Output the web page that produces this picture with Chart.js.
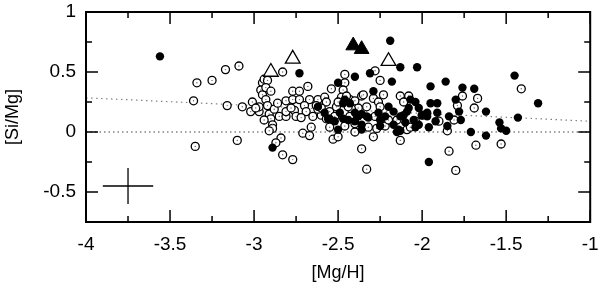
<!DOCTYPE html>
<html><head><meta charset="utf-8">
<script src="https://cdn.jsdelivr.net/npm/chart.js@4/dist/chart.umd.min.js"></script>
<style>html,body{margin:0;padding:0;background:#fff;}#wrap{width:600px;height:286px;}</style>
</head><body><div id="wrap"><canvas id="c" width="600" height="286"></canvas></div>
<script>
const xTicks = [-4,-3.5,-3,-2.5,-2,-1.5,-1];
const xMinor = [-3.75,-3.25,-2.75,-2.25,-1.75,-1.25];
const yTicks = [-0.5,0,0.5,1];
const yMinor = [-0.25,0.25,0.75];

const openX = [-3.34,-3.36,-3.35,-3.25,-3.17,-3.09,-3.16,-3.07,-3.10,-3.01,-3.02,-2.97,-2.97,-2.95,-2.96,-2.94,-2.92,-2.95,-2.93,-2.92,-2.91,-2.90,-2.89,-2.89,-2.84,-2.88,-2.85,-2.83,-2.81,-2.81,-2.77,-2.73,-2.68,-2.77,-2.73,-2.67,-2.62,-2.58,-2.63,-2.70,-2.76,-2.81,-2.75,-2.69,-2.65,-2.60,-2.57,-2.71,-2.66,-2.67,-2.53,-2.50,-2.54,-2.46,-2.46,-2.47,-2.55,-2.40,-2.36,-2.33,-2.36,-2.28,-2.25,-2.23,-2.29,-2.13,-2.32,-2.83,-2.77,-2.87,-2.43,-2.35,-2.29,-2.26,-2.38,-2.33,-2.25,-2.42,-2.13,-2.08,-2.11,-2.15,-2.22,-2.27,-2.09,-2.04,-2.00,-2.43,-2.28,-2.20,-2.07,-1.76,-1.67,-1.69,-1.79,-1.81,-1.90,-1.85,-1.68,-1.84,-1.80,-1.53,-1.41,-2.99,-2.94,-2.86,-2.55,-2.51,-2.48,-2.44,-2.40,-2.52,-2.93,-2.62,-2.45,-2.50,-2.57,-2.40,-2.46,-2.72,-2.78,-2.90,-2.91,-2.60];
const openY = [0.41,0.26,-0.12,0.43,0.52,0.55,0.22,0.21,-0.07,0.25,0.17,0.17,0.21,0.41,0.35,0.44,0.43,0.31,0.27,0.22,0.15,0.11,0.06,0.03,-0.05,0.19,0.13,0.50,0.13,0.26,0.34,0.34,0.38,0.27,0.27,0.27,0.27,0.29,0.22,0.22,0.18,0.17,0.13,0.17,0.13,0.14,0.11,-0.01,0.04,-0.03,-0.06,-0.04,0.36,0.48,0.41,0.35,0.04,0.00,-0.14,-0.31,0.30,0.51,0.43,0.31,-0.04,-0.07,0.04,-0.19,-0.23,-0.09,0.27,0.31,0.28,0.25,0.20,0.21,0.21,0.19,0.30,0.30,0.25,0.10,0.05,0.03,0.02,0.09,0.14,0.13,0.13,0.10,0.04,0.30,0.28,0.20,0.22,0.10,0.09,0.01,-0.11,-0.16,-0.32,-0.10,0.36,0.20,0.10,0.24,0.17,0.21,0.29,0.21,0.26,0.13,0.37,0.19,0.30,0.25,0.25,0.07,0.05,0.12,0.20,0.34,0.01,0.20];

const fillX = [-3.56,-2.89,-2.73,-2.19,-2.13,-2.03,-2.40,-2.31,-2.18,-1.95,-2.29,-1.96,-2.14,-1.86,-1.76,-1.69,-1.80,-1.62,-1.91,-1.78,-1.91,-1.84,-1.77,-1.92,-1.85,-1.71,-1.62,-1.54,-1.53,-1.50,-1.45,-1.43,-1.31,-1.95,-1.97,-1.96,-2.04,-2.07,-2.02,-2.00,-2.02,-2.13,-2.50,-2.62,-2.47,-2.49,-2.56,-2.47,-2.40,-2.36,-2.40,-2.32,-2.26,-2.20,-2.50,-2.36,-2.25,-2.15,-2.58,-2.55,-2.46,-2.43,-2.44,-2.52,-2.17,-2.11,-2.08,-2.10,-2.17,-2.25,-2.05,-2.33,-2.22,-2.13,-2.09,-2.04,-1.97,-2.36,-2.38];
const fillY = [0.63,-0.13,0.49,0.76,0.54,0.54,0.46,0.49,0.42,0.38,0.34,-0.25,0.02,0.42,0.37,0.36,0.27,0.17,0.24,0.17,0.16,0.13,0.10,0.09,0.05,0.00,-0.03,0.08,0.03,0.01,0.47,0.12,0.24,0.24,0.16,0.04,0.25,0.27,0.20,0.14,0.06,0.01,0.41,0.21,0.24,0.16,0.11,0.11,0.09,0.06,0.16,0.12,0.16,0.21,0.02,0.02,0.10,0.00,0.16,0.11,0.27,0.24,0.10,0.09,0.17,0.14,0.20,0.08,0.06,0.05,0.10,0.13,0.13,0.13,0.17,0.04,0.13,0.15,0.13];

const triOpenX = [-2.90,-2.77,-2.20];
const triOpenY = [0.50,0.61,0.59];
const triFillX = [-2.41,-2.36];
const triFillY = [0.72,0.69];

const trendX = [-4,-1];
const trendY = [0.285,0.09];
const zeroX = [-4,-1];
const zeroY = [0,0];
const errCenter = [-3.75,-0.45];
const errHalf = [0.15,0.15];

const pts = (xs, ys) => xs.map((x, i) => ({x: x, y: ys[i]}));

const FONT = 'Liberation Sans, Arial, Helvetica, sans-serif';

const frame = {
  id: 'frame',
  afterDatasetsDraw(chart){
    const {ctx, chartArea: a, scales: {x, y}} = chart;
    ctx.save();
    ctx.strokeStyle = '#000';
    ctx.lineWidth = 1.5;
    ctx.beginPath();
    const tx = (v, len) => { const p = x.getPixelForValue(v);
      ctx.moveTo(p, a.bottom); ctx.lineTo(p, a.bottom - len);
      ctx.moveTo(p, a.top); ctx.lineTo(p, a.top + len); };
    const ty = (v, len) => { const p = y.getPixelForValue(v);
      ctx.moveTo(a.left, p); ctx.lineTo(a.left + len, p);
      ctx.moveTo(a.right, p); ctx.lineTo(a.right - len, p); };
    xTicks.forEach(v => tx(v, 12));
    xMinor.forEach(v => tx(v, 6));
    yTicks.forEach(v => ty(v, 12));
    yMinor.forEach(v => ty(v, 6));
    ctx.stroke();
    ctx.lineWidth = 2;
    ctx.strokeRect(a.left, a.top, a.width, a.height);
    ctx.restore();
  }
};

const zeroPad = s => { s.paddingTop = 0; s.paddingBottom = 0; s.paddingLeft = 0; s.paddingRight = 0; };

new Chart(document.getElementById('c'), {
  type: 'scatter',
  data: {
    datasets: [
      {label:'triFill', data: pts(triFillX, triFillY), pointStyle:'triangle', pointRadius:8.5, backgroundColor:'#000', borderColor:'#000', borderWidth:1, order:0},
      {label:'triOpen', data: pts(triOpenX, triOpenY), pointStyle:'triangle', pointRadius:8.5, backgroundColor:'#fff', borderColor:'#000', borderWidth:1.3, order:0},
      {label:'filled', data: pts(fillX, fillY), pointStyle:'circle', pointRadius:4.2, backgroundColor:'#000', borderColor:'#000', borderWidth:0, order:1},
      {label:'openDot', data: pts(openX, openY), pointStyle:'circle', pointRadius:0.7, backgroundColor:'#666', borderWidth:0, order:2},
      {label:'open', data: pts(openX, openY), pointStyle:'circle', pointRadius:4, backgroundColor:'#fff', borderColor:'#000', borderWidth:1.3, order:3},
      {label:'trend', type:'line', data: pts(trendX, trendY), showLine:true, pointRadius:0, borderColor:'#808080', borderWidth:1.2, borderDash:[1.5,3.5], order:5},
      {label:'zero', type:'line', data: pts(zeroX, zeroY), showLine:true, pointRadius:0, borderColor:'#444', borderWidth:1.2, borderDash:[1.5,3], order:5},
      {label:'errH', type:'line', data: [{x:errCenter[0]-errHalf[0], y:errCenter[1]},{x:errCenter[0]+errHalf[0], y:errCenter[1]}], showLine:true, pointRadius:0, borderColor:'#000', borderWidth:1.3, order:5},
      {label:'errV', type:'line', data: [{x:errCenter[0], y:errCenter[1]-errHalf[1]},{x:errCenter[0], y:errCenter[1]+errHalf[1]}], showLine:true, pointRadius:0, borderColor:'#000', borderWidth:1.3, order:5}
    ]
  },
  options: {
    responsive: false,
    animation: false,
    layout: {padding: {top: 12, right: 8, left: 0, bottom: 0}},
    plugins: {legend: {display: false}, tooltip: {enabled: false}},
    scales: {
      x: {
        type: 'linear', min: -4, max: -1,
        afterBuildTicks: s => { s.ticks = xTicks.map(v => ({value: v})); },
        afterFit: s => { s.height = 64; zeroPad(s); },
        grid: {display: false, drawTicks: false},
        border: {display: false},
        ticks: {color: '#000', font: {family: FONT, size: 19}, padding: 11, maxRotation: 0, autoSkip: false, callback: v => String(v)},
        title: {display: true, text: '[Mg/H]', color: '#000', font: {family: FONT, size: 18}, padding: {top: 0, bottom: 2}}
      },
      y: {
        type: 'linear', min: -0.75, max: 1,
        afterBuildTicks: s => { s.ticks = yTicks.map(v => ({value: v})); },
        afterFit: s => { s.width = 86; zeroPad(s); },
        grid: {display: false, drawTicks: false},
        border: {display: false},
        ticks: {color: '#000', font: {family: FONT, size: 19}, padding: 10, autoSkip: false, callback: v => String(v)},
        title: {display: true, text: '[Si/Mg]', color: '#000', font: {family: FONT, size: 18}, padding: {top: 2, bottom: 0}}
      }
    }
  },
  plugins: [frame]
});
</script>
</body></html>
